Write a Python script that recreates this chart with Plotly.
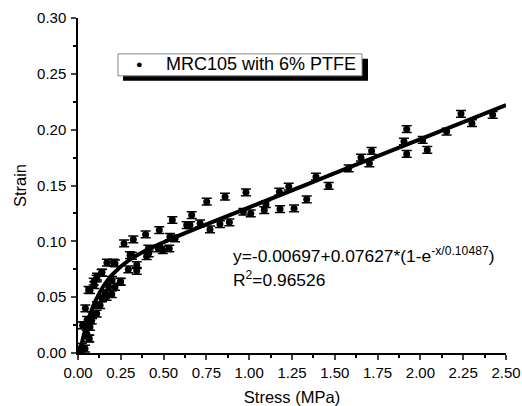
import plotly.graph_objects as go

# measured points (stress in MPa, strain)
stress = [0.004, 0.012, 0.021, 0.023, 0.027, 0.033, 0.041, 0.043, 0.051, 0.053,
          0.062, 0.062, 0.066, 0.070, 0.070, 0.080, 0.082, 0.092, 0.095, 0.109,
          0.109, 0.111, 0.111, 0.129, 0.138, 0.140, 0.140, 0.160, 0.167, 0.169,
          0.179, 0.197, 0.199, 0.208, 0.216, 0.216, 0.247, 0.249, 0.269, 0.294,
          0.304, 0.315, 0.323, 0.343, 0.343, 0.395, 0.401, 0.411, 0.413, 0.469,
          0.475, 0.495, 0.533, 0.537, 0.551, 0.567, 0.635, 0.654, 0.664, 0.713,
          0.752, 0.771, 0.829, 0.859, 0.884, 0.966, 0.981, 1.009, 1.088, 1.098,
          1.176, 1.180, 1.231, 1.262, 1.336, 1.390, 1.464, 1.581, 1.653, 1.702,
          1.715, 1.904, 1.920, 1.920, 2.013, 2.040, 2.153, 2.237, 2.301, 2.422]
strain = [0.0027, 0.0009, 0.0024, 0.0056, 0.0248, 0.0250, 0.0039, 0.0400, 0.0173, 0.0296,
          0.0565, 0.0132, 0.0129, 0.0233, 0.0562, 0.0293, 0.0340, 0.0639, 0.0607, 0.0353,
          0.0667, 0.0684, 0.0430, 0.0428, 0.0718, 0.0720, 0.0490, 0.0535, 0.0503, 0.0809,
          0.0594, 0.0526, 0.0654, 0.0809, 0.0592, 0.0802, 0.0639, 0.0637, 0.0981, 0.0748,
          0.0876, 0.0869, 0.1017, 0.0787, 0.0736, 0.1062, 0.0867, 0.0936, 0.0893, 0.0936,
          0.1101, 0.0921, 0.0936, 0.1041, 0.1191, 0.1026, 0.1146, 0.1146, 0.1235, 0.1161,
          0.1355, 0.1107, 0.1155, 0.1400, 0.1170, 0.1265, 0.1439, 0.1250, 0.1280, 0.1334,
          0.1445, 0.1289, 0.1490, 0.1295, 0.1376, 0.1579, 0.1496, 0.1654, 0.1750, 0.1699,
          0.1810, 0.1894, 0.2004, 0.1783, 0.1908, 0.1819, 0.1983, 0.2142, 0.2058, 0.2133]
strain_err = [0.003] * len(stress)

# fitted curve
fit_x = [0.01, 0.02, 0.05, 0.07, 0.10, 0.15, 0.20, 0.30, 0.40, 0.50, 0.75, 1.00, 1.50, 2.00, 2.50]
fit_y = [0.0000, 0.0075, 0.0250, 0.0345, 0.0460, 0.0602, 0.0702, 0.0833, 0.0921, 0.0992,
         0.1151, 0.1304, 0.1610, 0.1915, 0.2221]

series_name = "MRC105 with 6% PTFE"

fig = go.Figure()
fig.add_trace(go.Scatter(x=fit_x, y=fit_y, mode="lines", line=dict(color="black", width=4, shape="spline"),
                         showlegend=False, hoverinfo="skip"))
fig.add_trace(go.Scatter(x=stress, y=strain, mode="markers", name=series_name, showlegend=False,
                         marker=dict(color="black", size=7),
                         error_y=dict(type="data", array=strain_err, color="black", thickness=1.5, width=5)))

font = "Arial, Liberation Sans, sans-serif"
fig.update_layout(
    width=522, height=406,
    margin=dict(l=78, r=16, t=18, b=53),
    paper_bgcolor="white", plot_bgcolor="white",
    font=dict(family=font, size=15, color="black"),
    xaxis=dict(range=[0, 2.5], tickvals=[i * 0.25 for i in range(11)], tickformat=".2f",
               ticks="outside", ticklen=5, tickwidth=1.5, showgrid=False, zeroline=False,
               showline=True, linecolor="black", linewidth=1.5, automargin=False,
               minor=dict(dtick=0.125, ticks="outside", ticklen=3, tickcolor="black"),
               title=dict(text="Stress (MPa)", font=dict(size=16.5), standoff=12)),
    yaxis=dict(range=[0, 0.30], dtick=0.05, tickformat=".2f",
               ticks="outside", ticklen=5, tickwidth=1.5, showgrid=False, zeroline=False,
               showline=True, linecolor="black", linewidth=1.5, ticklabelstandoff=2, automargin=False,
               minor=dict(dtick=0.025, ticks="outside", ticklen=3, tickcolor="black"),
               title=dict(text="Strain", font=dict(size=16.5), standoff=6)),
    shapes=[
        # legend box with drop shadow
        dict(type="rect", xref="x", yref="y", x0=0.263, x1=1.694, y0=0.2437, y1=0.2634,
             fillcolor="black", line=dict(width=0), layer="above"),
        dict(type="rect", xref="x", yref="y", x0=0.2336, x1=1.659, y0=0.2482, y1=0.2679,
             fillcolor="white", line=dict(color="#888888", width=1), layer="above"),
    ],
    annotations=[
        dict(x=0.362, y=0.2585, xref="x", yref="y", showarrow=False, text="●", font=dict(size=11)),
        dict(x=0.50, y=0.2585, xref="x", yref="y", xanchor="left", showarrow=False,
             text=series_name, font=dict(size=18)),
        dict(x=0.894, y=0.088, xref="x", yref="y", xanchor="left", showarrow=False,
             text="y=-0.00697+0.07627*(1-e<sup>-x/0.10487</sup>)", font=dict(size=17.4)),
        dict(x=0.894, y=0.066, xref="x", yref="y", xanchor="left", showarrow=False,
             text="R<sup>2</sup>=0.96526", font=dict(size=17.4)),
    ],
)
# drop the default 8px page margin so the figure sits at the window's corner
fig.write_html("out.html", config={"displayModeBar": False},
               post_script="document.body.style.margin='0px';")
